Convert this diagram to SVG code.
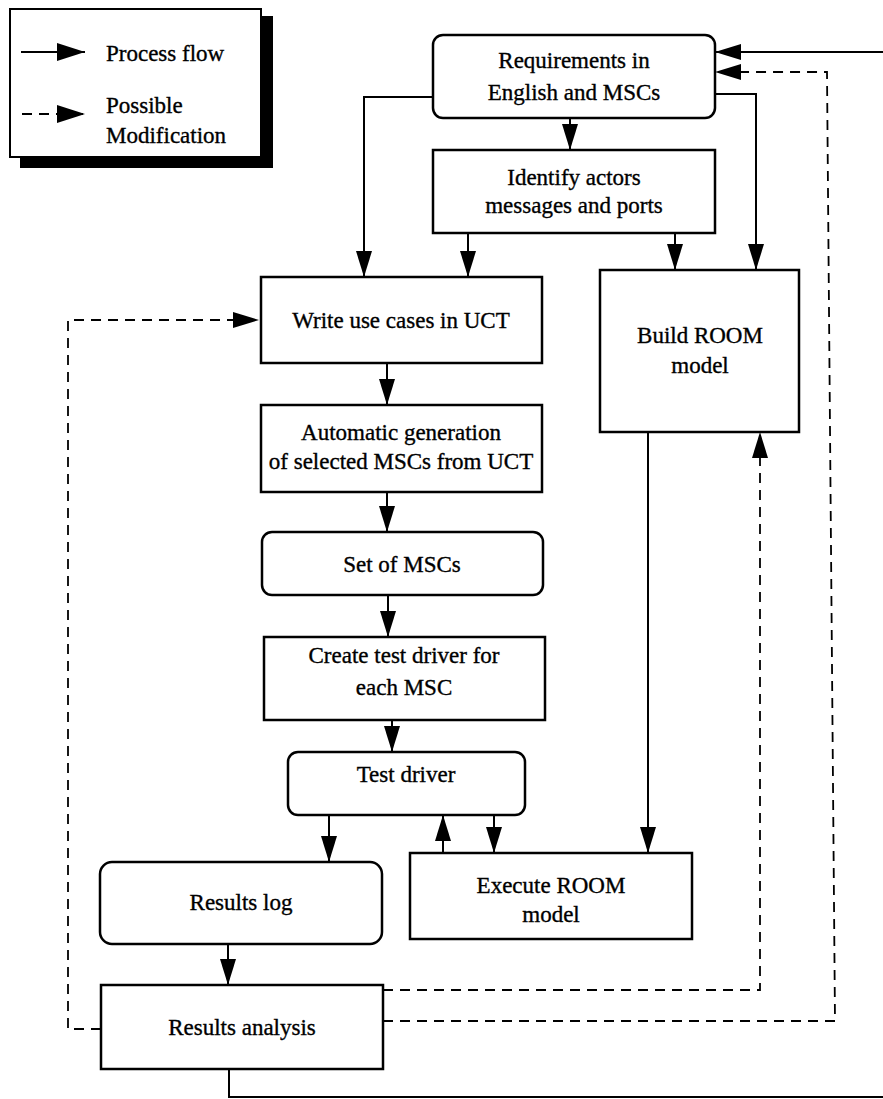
<svg xmlns="http://www.w3.org/2000/svg" width="883" height="1099" viewBox="0 0 883 1099">
  <defs>
    <style>
      .box { fill: #fff; stroke: #000; stroke-width: 2.5; }
      .lbl { font-family: "Liberation Serif", "Times New Roman", serif; font-size: 23px; fill: #000; stroke: #000; stroke-width: 0.35; text-anchor: middle; }
      .leg { font-family: "Liberation Serif", "Times New Roman", serif; font-size: 23px; fill: #000; stroke: #000; stroke-width: 0.35; }
      .flow { fill: none; stroke: #000; stroke-width: 2; }
      .mod { fill: none; stroke: #000; stroke-width: 1.8; stroke-dasharray: 10 7; }
    </style>
    <marker id="arrow" markerUnits="userSpaceOnUse" markerWidth="26" markerHeight="16" refX="26" refY="8" orient="auto">
      <path d="M0,0 L26,8 L0,16 Z" fill="#000"/>
    </marker>
    <marker id="arrowBig" markerUnits="userSpaceOnUse" markerWidth="28" markerHeight="18" refX="28" refY="9" orient="auto">
      <path d="M0,0 L28,9 L0,18 Z" fill="#000"/>
    </marker>
  </defs>

  <rect width="883" height="1099" fill="#fff"/>

  <!-- Legend -->
  <g id="legend">
    <rect x="20" y="16" width="253" height="152" fill="#000"/>
    <rect x="10" y="9" width="251" height="148" fill="#fff" stroke="#000" stroke-width="2"/>
    <line x1="21" y1="52" x2="85" y2="52" class="flow" marker-end="url(#arrowBig)"/>
    <text x="106" y="61" class="leg">Process flow</text>
    <line x1="22" y1="114" x2="85" y2="114" class="mod" marker-end="url(#arrowBig)"/>
    <text x="106" y="113" class="leg">Possible</text>
    <text x="106" y="143" class="leg">Modification</text>
  </g>

  <!-- Connectors -->
  <g id="connectors">
    <!-- process flow -->
    <path class="flow" d="M570,118 V150" marker-end="url(#arrow)"/>
    <path class="flow" d="M433,97 H364 V277" marker-end="url(#arrow)"/>
    <path class="flow" d="M468,233 V277" marker-end="url(#arrow)"/>
    <path class="flow" d="M675,233 V270" marker-end="url(#arrow)"/>
    <path class="flow" d="M715,94 H756 V270" marker-end="url(#arrow)"/>
    <path class="flow" d="M883,52 H715" marker-end="url(#arrow)"/>
    <path class="flow" d="M387,363 V405" marker-end="url(#arrow)"/>
    <path class="flow" d="M387,492 V532" marker-end="url(#arrow)"/>
    <path class="flow" d="M388,595 V637" marker-end="url(#arrow)"/>
    <path class="flow" d="M392,720 V752" marker-end="url(#arrow)"/>
    <path class="flow" d="M329,815 V862" marker-end="url(#arrow)"/>
    <path class="flow" d="M494,815 V853" marker-end="url(#arrow)"/>
    <path class="flow" d="M443,853 V815" marker-end="url(#arrow)"/>
    <path class="flow" d="M648,432 V853" marker-end="url(#arrow)"/>
    <path class="flow" d="M228,944 V985" marker-end="url(#arrow)"/>
    <path class="flow" d="M229,1069 V1097 H883"/>
    <!-- possible modification -->
    <path class="mod" d="M101,1029 H68 V320 H259" marker-end="url(#arrow)"/>
    <path class="mod" d="M383,990 H760 V432" marker-end="url(#arrow)"/>
    <path class="mod" d="M383,1021 H835 L827,72 H715" marker-end="url(#arrow)"/>
  </g>

  <g id="requirements">
    <rect class="box" x="433" y="35" width="282" height="83" rx="10"/>
    <text class="lbl" x="574" y="68">Requirements in</text>
    <text class="lbl" x="574" y="100">English and MSCs</text>
  </g>

  <g id="identify">
    <rect class="box" x="433" y="150" width="282" height="83"/>
    <text class="lbl" x="574" y="185">Identify actors</text>
    <text class="lbl" x="574" y="213">messages and ports</text>
  </g>

  <g id="write-use-cases">
    <rect class="box" x="261" y="277" width="281" height="86"/>
    <text class="lbl" x="401" y="328">Write use cases in UCT</text>
  </g>

  <g id="build-room">
    <rect class="box" x="600" y="270" width="199" height="162"/>
    <text class="lbl" x="700" y="343">Build ROOM</text>
    <text class="lbl" x="700" y="373">model</text>
  </g>

  <g id="automatic-generation">
    <rect class="box" x="261" y="405" width="281" height="87"/>
    <text class="lbl" x="401" y="440">Automatic generation</text>
    <text class="lbl" x="401" y="469">of selected MSCs from UCT</text>
  </g>

  <g id="set-of-mscs">
    <rect class="box" x="262" y="532" width="281" height="63" rx="10"/>
    <text class="lbl" x="402" y="572">Set of MSCs</text>
  </g>

  <g id="create-test-driver">
    <rect class="box" x="264" y="637" width="281" height="83"/>
    <text class="lbl" x="404" y="663">Create test driver for</text>
    <text class="lbl" x="404" y="695">each MSC</text>
  </g>

  <g id="test-driver">
    <rect class="box" x="288" y="752" width="237" height="63" rx="10"/>
    <text class="lbl" x="406" y="782">Test driver</text>
  </g>

  <g id="results-log">
    <rect class="box" x="100" y="862" width="282" height="82" rx="12"/>
    <text class="lbl" x="241" y="910">Results log</text>
  </g>

  <g id="execute-room">
    <rect class="box" x="410" y="853" width="282" height="86"/>
    <text class="lbl" x="551" y="893">Execute ROOM</text>
    <text class="lbl" x="551" y="922">model</text>
  </g>

  <g id="results-analysis">
    <rect class="box" x="101" y="985" width="282" height="84"/>
    <text class="lbl" x="242" y="1035">Results analysis</text>
  </g>
</svg>
